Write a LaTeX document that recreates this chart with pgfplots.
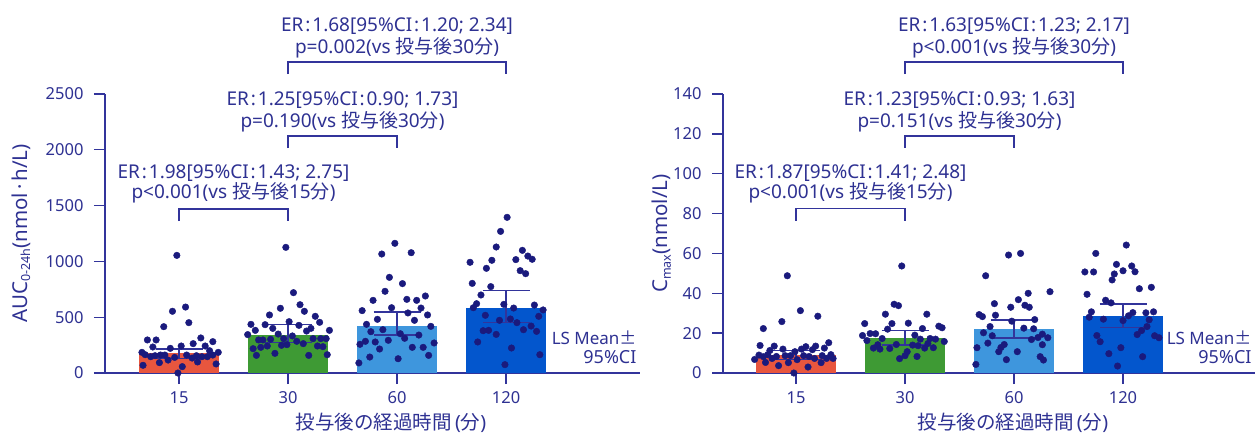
\documentclass[border=0pt]{standalone}
\usepackage{fontspec}
\setmainfont{Noto Sans}
\newfontfamily\jp{Noto Sans CJK JP}
\usepackage{pgfplots}
\pgfplotsset{compat=1.18}
\definecolor{cText}{RGB}{46,49,146}
\definecolor{cAxis}{RGB}{50,52,155}
\definecolor{cDot}{RGB}{26,26,125}
\definecolor{cRed}{RGB}{232,86,62}
\definecolor{cGreen}{RGB}{62,154,52}
\definecolor{cLBlue}{RGB}{62,150,221}
\definecolor{cBlue}{RGB}{3,86,205}
\newcommand{\tfont}{\fontsize{16.5}{20}\selectfont}
\newcommand{\afont}{\fontsize{19}{22}\selectfont}
\newcommand{\lfont}{\fontsize{19.5}{24}\selectfont}
\newcommand{\cl}{\kern0.1em:\kern0.1em}
\newcommand{\lsm}{{\fontsize{17}{19}\selectfont LS Mean{\jp ±}}\\95\%CI}
\tikzset{
  brk/.style={cAxis, line width=1.4pt},
  ann/.style={font=\afont, text=cText},
}
\pgfplotsset{
  mystyle/.style={
    scale only axis, height=279pt,
    axis x line=bottom, axis y line=left,
    axis line style={cAxis, line width=1.4pt, -},
    tick style={cAxis, line width=1.4pt},
    major tick length=11pt, tick align=outside,
    xtick={0,1,2,3}, xticklabels={15,30,60,120},
    ymin=0, clip=false, enlargelimits=false,
    ticklabel style={font=\tfont, text=cText},
    yticklabel style={xshift=-7pt},
    xticklabel style={yshift=-4pt},
    /pgf/number format/assume math mode=true,
    /pgf/number format/1000 sep={},
    anchor=south west,
  },
  bar/.style={ybar, bar width=80pt, bar shift=0pt, draw=none, fill=#1},
  dots/.style={only marks, mark=*, mark size=3.3pt, color=cDot},
  errb/.style={forget plot, draw=none, mark=none,
    error bars/.cd, y dir=both, y explicit, error mark=-,
    error bar style={draw=cAxis, line width=1.4pt},
    error mark options={rotate=90, draw=cAxis, line width=1.4pt, mark size=23.5pt}},
}
\begin{document}
\begin{tikzpicture}
\useasboundingbox (-105pt,-61pt) rectangle (1152pt,373pt);
% ---------------- left panel ----------------
\begin{axis}[mystyle, at={(0pt,0pt)}, width=535pt, xmin=-0.679, xmax=4.229,
  ymax=2500, ytick={0,500,1000,1500,2000,2500}]
\addplot[bar=cRed] coordinates {(0,183)};
\addplot[bar=cGreen] coordinates {(1,338)};
\addplot[bar=cLBlue] coordinates {(2,423)};
\addplot[bar=cBlue] coordinates {(3,584)};
\addplot[errb] coordinates {(0,183) += (0,32) -= (0,53) (1,338) += (0,95) -= (0,66) (2,423) += (0,124) -= (0,83) (3,584) += (0,156) -= (0,134)};
\addplot[dots] coordinates {(-0.02,1054)(-0.06,553)(0.06,591)(-0.14,415)(0.09,451)(-0.29,296)(-0.21,296)(-0.24,233)(0.20,314)(0.31,281)(0.13,263)(0.24,242)(-0.08,221)(0.02,242)(0.28,200)(0.36,185)(-0.34,185)(-0.31,164)(-0.26,146)(-0.22,155)(-0.17,161)(-0.13,161)(-0.04,140)(-0.10,116)(-0.18,93)(0.07,161)(0.12,134)(0.16,155)(0.21,146)(0.26,146)(0.31,161)(0.17,99)(0.34,81)(-0.33,69)(0.03,57)(-0.01,0)};
\addplot[dots] coordinates {(0.98,1126)(1.05,720)(1.11,612)(1.15,553)(0.93,580)(0.83,520)(1.25,508)(1.29,454)(0.66,436)(0.79,433)(0.70,382)(0.63,344)(0.86,400)(0.91,349)(1.01,460)(1.10,427)(1.17,376)(1.21,400)(1.38,382)(1.04,332)(0.96,308)(0.73,296)(0.77,296)(0.84,302)(1.23,308)(1.30,308)(1.35,308)(1.08,284)(1.14,263)(0.81,242)(0.75,230)(0.94,248)(0.99,254)(1.27,242)(1.32,236)(0.68,218)(0.88,176)(0.71,158)(1.19,158)(1.36,164)};
\addplot[dots] coordinates {(1.98,1162)(1.86,1066)(2.13,1078)(1.93,857)(2.05,801)(1.89,732)(1.78,651)(1.68,559)(2.09,660)(2.18,651)(2.26,690)(1.95,585)(2.22,582)(2.10,538)(1.82,481)(2.28,520)(2.16,472)(1.72,436)(2.31,418)(1.87,388)(1.76,370)(2.03,352)(2.07,311)(2.20,340)(1.92,293)(1.71,284)(1.80,278)(1.66,257)(2.34,269)(1.84,215)(2.14,230)(2.24,230)(2.29,158)(1.75,143)(2.01,128)(1.65,90)};
\addplot[dots] coordinates {(3.01,1395)(2.95,1269)(2.91,1129)(3.15,1099)(3.20,1048)(3.24,1019)(2.67,992)(2.87,1010)(3.09,1016)(2.82,938)(3.13,917)(3.18,890)(2.69,803)(2.86,774)(2.77,699)(2.73,621)(2.70,585)(2.98,615)(3.07,582)(3.26,609)(3.34,565)(2.81,517)(3.30,508)(2.94,472)(3.04,484)(3.10,451)(3.23,421)(3.16,388)(3.28,373)(2.79,379)(2.84,382)(2.91,346)(2.74,278)(3.05,224)(3.31,164)(2.99,75)};
\draw[brk] (axis cs:0,1362) -- (axis cs:0,1470) -- (axis cs:1,1470) -- (axis cs:1,1362);
\draw[brk] (axis cs:1,2016) -- (axis cs:1,2124) -- (axis cs:2,2124) -- (axis cs:2,2016);
\draw[brk] (axis cs:1,2679) -- (axis cs:1,2787) -- (axis cs:3,2787) -- (axis cs:3,2679);
\node[ann] at (axis cs:0.5,1792) {ER\cl 1.98[95\%CI\cl 1.43; 2.75]};
\node[ann] at (axis cs:0.5,1613) {p<0.001(vs {\jp 投与後}15{\jp 分})};
\node[ann] at (axis cs:1.5,2446) {ER\cl 1.25[95\%CI\cl 0.90; 1.73]};
\node[ann] at (axis cs:1.5,2249) {p=0.190(vs {\jp 投与後}30{\jp 分})};
\node[ann] at (axis cs:2,3109) {ER\cl 1.68[95\%CI\cl 1.20; 2.34]};
\node[ann] at (axis cs:2,2912) {p=0.002(vs {\jp 投与後}30{\jp 分})};
\node[font=\fontsize{18}{19}\selectfont, text=cText, anchor=east, align=right] at (axis description cs:1,0.091) {\lsm};
\node[font=\lfont, text=cText, yshift=-50pt] at (axis cs:1.945,0) {{\jp 投与後の経過時間}\,({\jp 分})};
\node[font=\fontsize{20.5}{24}\selectfont, text=cText, rotate=90] at (axis description cs:-0.157,0.5) {AUC{\fontsize{12.5}{12}\selectfont\raisebox{-3pt}{0-24h}}(nmol{\jp ·}h/L)};
\end{axis}
% ---------------- right panel ----------------
\begin{axis}[mystyle, at={(618pt,0pt)}, width=532pt, xmin=-0.670, xmax=4.211,
  ymax=140, ytick={0,20,40,60,80,100,120,140}]
\addplot[bar=cRed] coordinates {(0,9.2)};
\addplot[bar=cGreen] coordinates {(1,17.5)};
\addplot[bar=cLBlue] coordinates {(2,22.0)};
\addplot[bar=cBlue] coordinates {(3,28.5)};
\addplot[errb] coordinates {(0,9.2) += (0,2.0) -= (0,2.3) (1,17.5) += (0,3.7) -= (0,3.5) (2,22.0) += (0,4.5) -= (0,4.5) (3,28.5) += (0,6.2) -= (0,5.7)};
\addplot[dots] coordinates {(-0.08,48.8)(0.04,31.3)(-0.13,25.8)(0.20,28.5)(-0.30,22.3)(-0.33,13.8)(0.30,15.2)(0.26,12.5)(-0.20,13.5)(-0.24,11.3)(-0.12,12.0)(-0.01,10.7)(0.09,13.2)(0.15,11.7)(0.18,13.5)(0.05,12.0)(-0.38,6.8)(-0.34,9.0)(-0.30,8.2)(-0.26,9.2)(-0.22,7.3)(-0.18,8.3)(-0.10,8.7)(-0.05,8.7)(0.01,6.7)(0.07,8.7)(0.12,8.3)(0.17,7.3)(0.24,8.7)(0.28,7.3)(0.32,9.2)(0.34,7.3)(-0.28,5.3)(-0.16,3.7)(-0.07,5.2)(0.23,5.2)(0.11,3.0)(-0.02,0)};
\addplot[dots] coordinates {(0.97,53.7)(0.90,34.5)(0.94,33.8)(1.20,29.5)(0.82,29.5)(0.63,24.8)(0.88,24.8)(1.03,25.0)(1.31,23.5)(1.34,22.7)(0.84,22.0)(1.16,22.3)(0.68,19.8)(0.73,19.7)(0.61,18.8)(1.09,19.0)(0.65,16.3)(0.79,17.3)(1.14,17.0)(1.23,17.3)(1.28,17.0)(1.36,15.8)(0.75,14.2)(0.92,14.3)(1.07,14.0)(1.12,13.7)(1.21,14.8)(0.71,12.5)(0.77,12.0)(0.86,12.3)(1.18,12.5)(1.26,12.7)(1.02,10.7)(1.00,8.7)(1.11,8.3)(0.95,7.2)};
\addplot[dots] coordinates {(1.95,59.2)(2.06,60.0)(1.74,48.8)(2.33,40.8)(2.13,40.0)(2.04,36.8)(1.82,34.8)(1.97,33.0)(2.10,34.0)(2.14,33.0)(1.68,29.3)(1.71,28.3)(1.83,29.0)(2.19,26.8)(1.98,26.0)(1.78,23.3)(2.09,22.5)(2.18,22.2)(1.72,20.2)(1.80,18.7)(2.26,19.5)(2.22,17.8)(2.31,17.7)(2.16,16.8)(1.76,15.0)(1.91,14.3)(2.26,14.2)(1.66,12.7)(1.88,12.8)(1.86,10.7)(2.03,10.7)(2.24,8.2)(2.27,6.5)(1.93,6.7)(1.65,4.3)};
\addplot[dots] coordinates {(3.03,64.2)(2.75,60.0)(2.94,54.5)(3.08,53.7)(2.65,50.7)(2.73,50.7)(3.00,51.3)(3.11,50.8)(2.92,49.7)(2.90,46.7)(3.15,42.3)(3.26,43.0)(2.67,39.5)(2.84,36.5)(2.89,35.2)(2.71,30.7)(2.69,28.0)(3.09,30.3)(3.05,28.7)(3.21,30.2)(3.28,30.7)(2.82,27.0)(3.00,26.3)(3.24,26.7)(3.22,23.3)(3.17,21.3)(3.13,19.3)(2.76,18.8)(3.29,18.7)(3.33,17.7)(2.79,15.7)(2.98,12.7)(2.87,9.7)(3.18,8.2)(2.95,3.5)};
\draw[brk] (axis cs:0,76.5) -- (axis cs:0,82.5) -- (axis cs:1,82.5) -- (axis cs:1,76.5);
\draw[brk] (axis cs:1,113) -- (axis cs:1,119) -- (axis cs:2,119) -- (axis cs:2,113);
\draw[brk] (axis cs:1,150) -- (axis cs:1,156) -- (axis cs:3,156) -- (axis cs:3,150);
\node[ann] at (axis cs:0.5,100.5) {ER\cl 1.87[95\%CI\cl 1.41; 2.48]};
\node[ann] at (axis cs:0.5,90.5) {p<0.001(vs {\jp 投与後}15{\jp 分})};
\node[ann] at (axis cs:1.5,137) {ER\cl 1.23[95\%CI\cl 0.93; 1.63]};
\node[ann] at (axis cs:1.5,126) {p=0.151(vs {\jp 投与後}30{\jp 分})};
\node[ann] at (axis cs:2,174) {ER\cl 1.63[95\%CI\cl 1.23; 2.17]};
\node[ann] at (axis cs:2,163) {p<0.001(vs {\jp 投与後}30{\jp 分})};
\node[font=\fontsize{18}{19}\selectfont, text=cText, anchor=east, align=right] at (axis description cs:1,0.091) {\lsm};
\node[font=\lfont, text=cText, yshift=-50pt] at (axis cs:1.99,0) {{\jp 投与後の経過時間}\,({\jp 分})};
\node[font=\fontsize{20.5}{24}\selectfont, text=cText, rotate=90] at (axis description cs:-0.115,0.5) {C{\fontsize{12.5}{12}\selectfont\raisebox{-3pt}{max}}(nmol/L)};
\end{axis}
\end{tikzpicture}
\end{document}
